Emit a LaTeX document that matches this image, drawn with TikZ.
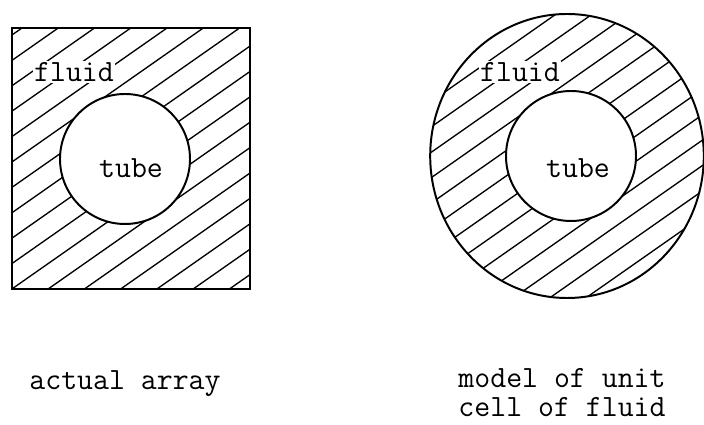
\documentclass[tikz,border=0pt]{standalone}
\usetikzlibrary{positioning,calc}
\tikzset{
  outline/.style={line width=1.4pt, draw=black},
  hatchline/.style={line width=0.95pt, draw=black},
  typed/.style={font=\ttfamily\fontsize{22}{20.5}\selectfont, inner sep=0pt, align=left}
}
\newcommand{\hatchfill}[1]{%
  \begin{scope}[rotate around={35:#1}]
    \foreach \i in {-20,...,20}
      \draw[hatchline] ($#1+(-9,\i*0.52)$) -- ($#1+(9,\i*0.52)$);
  \end{scope}
}

\begin{document}
\begin{tikzpicture}[x=1cm,y=1cm]
\path[use as bounding box] (0,0) rectangle (17.6,10.625);

% actual array
\coordinate (sqsw) at (0.3,3.4);
\coordinate (sqne) at (6.25,9.925);
\coordinate (tubeA) at (3.125,6.65);
\begin{scope}[even odd rule]
  \clip (sqsw) rectangle (sqne) (tubeA) circle (1.625);
  \hatchfill{(tubeA)}
\end{scope}
\draw[outline] (sqsw) rectangle (sqne);
\draw[outline] (tubeA) circle (1.625);

% model of unit cell
\coordinate (cellB) at (14.175,6.725);
\coordinate (tubeB) at (14.275,6.725);
\begin{scope}[even odd rule]
  \clip (cellB) ellipse [x radius=3.42, y radius=3.55] (tubeB) circle (1.625);
  \hatchfill{(tubeB)}
\end{scope}
\draw[outline] (cellB) ellipse [x radius=3.42, y radius=3.55];
\draw[outline] (tubeB) circle (1.625);

\node[typed, fill=white, inner sep=1pt] (fluidA) at (1.85,8.825) {fluid};
\node[typed] (tubetextA) at (3.275,6.425) {tube};
\node[typed, fill=white, inner sep=1pt] (fluidB) at (13.0,8.825) {fluid};
\node[typed] (tubetextB) at (14.45,6.425) {tube};

\node[typed] (capA) at (3.125,1.025) {actual array};
\node[typed] (capB) at (14.05,0.82) {model of unit\\cell of fluid};

\end{tikzpicture}
\end{document}
